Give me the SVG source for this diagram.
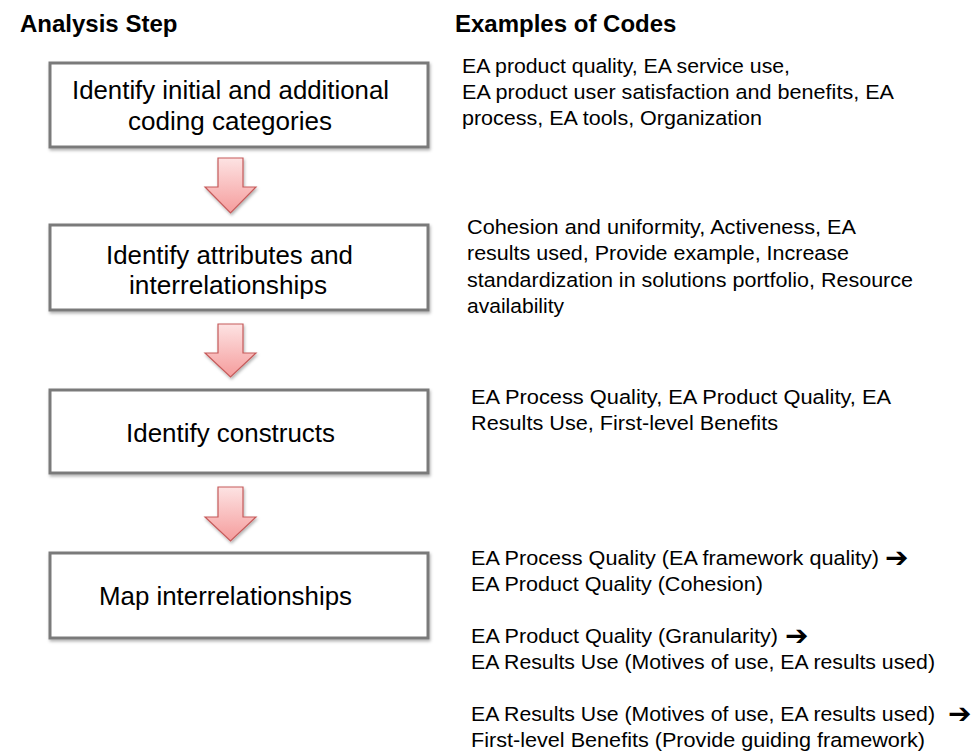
<svg xmlns="http://www.w3.org/2000/svg" width="974" height="751" viewBox="0 0 974 751">
<style>
.hdr{font-family:"Liberation Sans",Arial,sans-serif;font-weight:bold;font-size:24px;fill:#000}
.box{fill:#fff;stroke:#7a7a7a;stroke-width:3}
.bt{font-family:"Liberation Sans",Arial,sans-serif;font-size:25px;fill:#000}
.ct{font-family:"Liberation Sans",Arial,sans-serif;font-size:20.5px;fill:#000}
.ar{font-family:"DejaVu Sans",sans-serif;font-weight:bold;font-size:28px;fill:#000}
.arr{fill:url(#pink);stroke:#c55a5a;stroke-width:1.2}
</style>
<defs>
<linearGradient id="pink" x1="0" y1="0" x2="0" y2="1">
<stop offset="0" stop-color="#fde3e3"/>
<stop offset="1" stop-color="#f59c9c"/>
</linearGradient>
<filter id="sh" x="-10%" y="-10%" width="130%" height="140%">
<feDropShadow dx="1" dy="2" stdDeviation="1.5" flood-color="#000" flood-opacity="0.3"/>
</filter>
</defs>
<rect width="974" height="751" fill="#fff"/>
<text class="hdr" x="20" y="32">Analysis Step</text>
<text class="hdr" x="455" y="32">Examples of Codes</text>

<g id="step1">
<rect class="box" x="50" y="63" width="378" height="84" filter="url(#sh)"/>
<text class="bt" x="72" y="99" textLength="317" lengthAdjust="spacingAndGlyphs">Identify initial and additional</text>
<text class="bt" x="128" y="130" textLength="204" lengthAdjust="spacingAndGlyphs">coding categories</text>
</g>
<g id="step2">
<rect class="box" x="50" y="225" width="378" height="85" filter="url(#sh)"/>
<text class="bt" x="106" y="264" textLength="247" lengthAdjust="spacingAndGlyphs">Identify attributes and</text>
<text class="bt" x="129" y="294" textLength="198" lengthAdjust="spacingAndGlyphs">interrelationships</text>
</g>
<g id="step3">
<rect class="box" x="50" y="390" width="378" height="83" filter="url(#sh)"/>
<text class="bt" x="126" y="442" textLength="209" lengthAdjust="spacingAndGlyphs">Identify constructs</text>
</g>
<g id="step4">
<rect class="box" x="50" y="553" width="378" height="85" filter="url(#sh)"/>
<text class="bt" x="99" y="605" textLength="253" lengthAdjust="spacingAndGlyphs">Map interrelationships</text>
</g>

<g id="connectors">
<path class="arr" filter="url(#sh)" d="M218,158 H243 V187 H256 L230.5,213 L205,187 H218 Z"/>
<path class="arr" filter="url(#sh)" d="M218,324 H243 V353 H256 L230.5,377 L205,353 H218 Z"/>
<path class="arr" filter="url(#sh)" d="M218,487 H243 V517 H256 L230.5,541 L205,517 H218 Z"/>
</g>

<g id="codes1">
<text class="ct" x="462" y="73" textLength="328" lengthAdjust="spacingAndGlyphs">EA product quality, EA service use,</text>
<text class="ct" x="462" y="99" textLength="432" lengthAdjust="spacingAndGlyphs">EA product user satisfaction and benefits, EA</text>
<text class="ct" x="462" y="125" textLength="300" lengthAdjust="spacingAndGlyphs">process, EA tools, Organization</text>
</g>
<g id="codes2">
<text class="ct" x="467" y="234" textLength="389" lengthAdjust="spacingAndGlyphs">Cohesion and uniformity, Activeness, EA</text>
<text class="ct" x="467" y="260" textLength="382" lengthAdjust="spacingAndGlyphs">results used, Provide example, Increase</text>
<text class="ct" x="467" y="287" textLength="446" lengthAdjust="spacingAndGlyphs">standardization in solutions portfolio, Resource</text>
<text class="ct" x="467" y="313" textLength="97" lengthAdjust="spacingAndGlyphs">availability</text>
</g>
<g id="codes3">
<text class="ct" x="471" y="404" textLength="420" lengthAdjust="spacingAndGlyphs">EA Process Quality, EA Product Quality, EA</text>
<text class="ct" x="471" y="430" textLength="307" lengthAdjust="spacingAndGlyphs">Results Use, First-level Benefits</text>
</g>
<g id="codes4">
<text class="ct" x="471" y="565" textLength="408" lengthAdjust="spacingAndGlyphs">EA Process Quality (EA framework quality)</text>
<text class="ar" x="885" y="567">➔</text>
<text class="ct" x="471" y="591" textLength="292" lengthAdjust="spacingAndGlyphs">EA Product Quality (Cohesion)</text>
<text class="ct" x="471" y="643" textLength="307" lengthAdjust="spacingAndGlyphs">EA Product Quality (Granularity)</text>
<text class="ar" x="785" y="645">➔</text>
<text class="ct" x="471" y="669" textLength="464" lengthAdjust="spacingAndGlyphs">EA Results Use (Motives of use, EA results used)</text>
<text class="ct" x="471" y="721" textLength="464" lengthAdjust="spacingAndGlyphs">EA Results Use (Motives of use, EA results used)</text>
<text class="ar" x="948" y="723">➔</text>
<text class="ct" x="471" y="747" textLength="454" lengthAdjust="spacingAndGlyphs">First-level Benefits (Provide guiding framework)</text>
</g>
</svg>
